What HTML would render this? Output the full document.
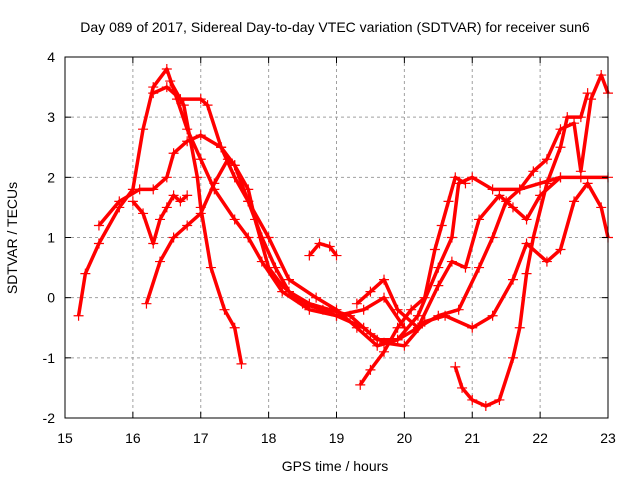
<!DOCTYPE html>
<html><head><meta charset="utf-8"><style>
body{margin:0;background:#fff}
svg{display:block;font-family:"Liberation Sans",sans-serif}
</style></head><body>
<svg width="640" height="480">
<rect x="0" y="0" width="640" height="480" fill="#fff"/>
<g id="grid"></g>
<g id="series"></g>
<rect x="65" y="57" width="543" height="361" fill="none" stroke="#000" stroke-width="1"/>
<g id="axes"></g>
<text x="335" y="32" text-anchor="middle" font-size="14">Day 089 of 2017, Sidereal Day-to-day VTEC variation (SDTVAR) for receiver sun6</text>
<text x="335" y="471" text-anchor="middle" font-size="14">GPS time / hours</text>
<text transform="translate(17,238) rotate(-90)" text-anchor="middle" font-size="14">SDTVAR / TECUs</text>
</svg>
<script>
const xTicks=[15,16,17,18,19,20,21,22,23];
const yTicks=[-2,-1,0,1,2,3,4];
const track1=[[15.2,-0.3],[15.3,0.4],[15.5,0.9],[15.8,1.5],[16.0,1.8],[16.15,2.8],[16.3,3.5],[16.5,3.8],[16.65,3.3],[16.8,2.8],[17.0,2.3],[17.2,1.8],[17.5,1.3],[17.7,1.0],[17.9,0.6],[18.2,0.1],[18.6,-0.2],[19.0,-0.3],[19.4,-0.2],[19.7,0.0],[20.0,-0.5]];
const track2=[[16.3,3.4],[16.5,3.5],[16.7,3.3],[17.0,3.3],[17.1,3.2],[17.3,2.5],[17.5,2.0],[17.7,1.6],[18.0,1.0],[18.3,0.3],[18.7,0.0],[19.0,-0.2],[19.3,-0.5],[19.6,-0.8],[19.9,-0.7],[20.2,-0.3],[20.5,0.5],[20.7,1.0],[20.8,1.9],[21.0,2.0],[21.3,1.8],[21.7,1.8],[22.0,1.9],[22.3,2.0],[22.6,2.0],[23.0,2.0]];
const track3=[[16.55,3.6],[16.75,3.2],[16.95,2.0],[17.0,1.5],[17.15,0.5],[17.35,-0.2],[17.5,-0.5],[17.6,-1.1]];
const track4=[[16.2,-0.1],[16.4,0.6],[16.6,1.0],[16.8,1.2],[17.0,1.4],[17.2,1.9],[17.4,2.3],[17.5,2.2],[17.7,1.6],[17.9,1.0],[18.1,0.5],[18.3,0.1],[18.6,-0.1],[18.9,-0.2],[19.2,-0.3],[19.5,-0.6],[19.7,-0.75],[20.0,-0.8],[20.3,-0.4],[20.6,-0.3],[21.0,-0.5],[21.3,-0.3],[21.6,0.3],[21.8,0.9],[22.1,0.6],[22.3,0.8],[22.5,1.6],[22.7,1.9],[22.9,1.5],[23.0,1.0]];
const track5=[[15.5,1.2],[15.8,1.6],[16.1,1.8],[16.3,1.8],[16.5,2.0],[16.6,2.4],[16.8,2.6],[17.0,2.7],[17.3,2.5],[17.5,2.2],[17.7,1.8],[17.8,1.3],[18.0,0.5],[18.2,0.2],[18.5,-0.1],[18.8,-0.2],[19.0,-0.3],[19.4,-0.5],[19.6,-0.7],[19.9,-0.7],[20.2,-0.5],[20.5,-0.3],[20.8,-0.2],[21.1,0.5],[21.3,1.0],[21.5,1.6],[21.7,1.8],[21.9,2.1],[22.1,2.3],[22.3,2.8],[22.5,2.9],[22.6,2.1],[22.75,3.3],[22.9,3.7],[23.0,3.4]];
const track6=[[16.0,1.6],[16.15,1.4],[16.3,0.9],[16.4,1.3],[16.5,1.5],[16.6,1.7],[16.7,1.6],[16.8,1.7]];
const track7=[[18.6,0.7],[18.75,0.9],[18.9,0.85],[19.0,0.7]];
const track8=[[19.35,-1.45],[19.5,-1.2],[19.7,-0.9],[19.9,-0.5],[20.1,-0.2],[20.3,0.0],[20.45,0.8],[20.55,1.2],[20.65,1.6],[20.75,2.0],[20.9,1.9]];
const track9=[[20.75,-1.15],[20.85,-1.5],[21.0,-1.7],[21.2,-1.8],[21.4,-1.7],[21.6,-1.0],[21.7,-0.5],[21.8,0.4],[21.9,1.0],[22.1,1.9],[22.3,2.5],[22.4,3.0],[22.6,3.0],[22.7,3.4]];
const track10=[[19.3,-0.1],[19.5,0.1],[19.7,0.3],[19.9,-0.2],[20.2,-0.5],[20.5,0.2],[20.7,0.6],[20.9,0.5],[21.1,1.3],[21.4,1.7],[21.6,1.5],[21.8,1.3],[22.0,1.7],[22.3,2.0]];
const tracks=[track1,track2,track3,track4,track5,track6,track7,track8,track9,track10];
const NS="http://www.w3.org/2000/svg";
const X=t=>65+(t-15)*(543/8);
const Y=v=>418-(v+2)*(361/6);
function mk(tag,attrs,parent){const e=document.createElementNS(NS,tag);for(const k in attrs)e.setAttribute(k,attrs[k]);parent.appendChild(e);return e;}
const grid=document.getElementById('grid'),axes=document.getElementById('axes'),series=document.getElementById('series');
xTicks.forEach(t=>{
  if(t>15&&t<23){const l=mk('line',{x1:X(t),x2:X(t),y1:57,y2:418,stroke:'#a0a0a0','stroke-dasharray':'3,3'},grid);
  
  }
  const tk=mk('line',{x1:X(t),x2:X(t),y1:418,y2:412,stroke:'#000'},axes);
  
  
  const tk2=mk('line',{x1:X(t),x2:X(t),y1:57,y2:63,stroke:'#000'},axes);
  
  
  const tx=mk('text',{x:X(t),y:443,'text-anchor':'middle','font-size':14},axes);tx.textContent=t;
  
  
});
yTicks.forEach(v=>{
  if(v>-2&&v<4){const l=mk('line',{x1:65,x2:608,y1:Y(v),y2:Y(v),stroke:'#a0a0a0','stroke-dasharray':'3,3'},grid);
  
  }
  const tk=mk('line',{x1:65,x2:71,y1:Y(v),y2:Y(v),stroke:'#000'},axes);
  
  
  const tk2=mk('line',{x1:602,x2:608,y1:Y(v),y2:Y(v),stroke:'#000'},axes);
  
  
  const tx=mk('text',{x:55,y:Y(v)+5,'text-anchor':'end','font-size':14},axes);tx.textContent=v;
  
  
});
tracks.forEach((tr,i)=>{
  const pl=mk('polyline',{points:tr.map(p=>X(p[0])+','+Y(p[1])).join(' '),fill:'none',stroke:'#ff0000','stroke-width':3.5,'stroke-linejoin':'round'},series);
  
  
  tr.forEach(p=>{
    const x=X(p[0]),y=Y(p[1]);
    const m=mk('path',{d:`M${x-5},${y}H${x+5}M${x},${y-5}V${y+5}`,stroke:'#ff0000','stroke-width':1.2},series);
    
    
  });
});
</script>
</body></html>
